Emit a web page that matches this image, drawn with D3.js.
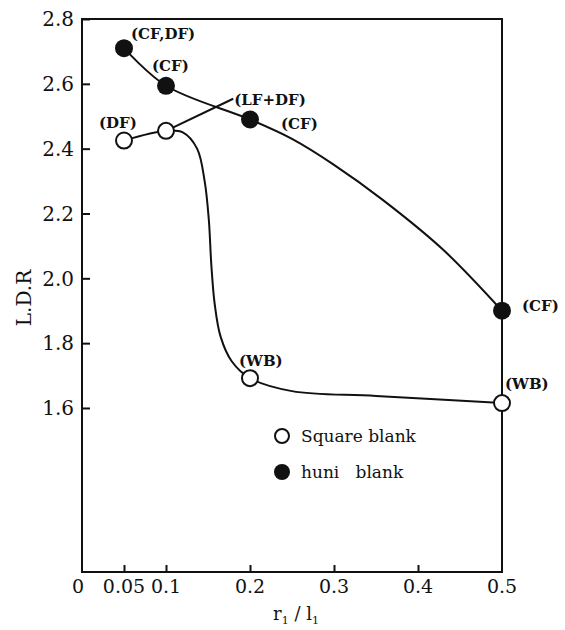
<!DOCTYPE html>
<html>
<head>
<meta charset="utf-8">
<script src="https://cdn.jsdelivr.net/npm/d3@7"></script>
<style>
	body { margin: 0; background: #fff; }
	svg { display: block; }
	text { font-family: "DejaVu Serif", "Liberation Serif", serif; fill: #111; }
</style>
</head>
<body>
<div id="chart"></div>
<script>
// measured points (r1/l1 , L.D.R)
const ratios = [0.05, 0.1, 0.2, 0.5]
const squareLDR = [2.425, 2.455, 1.692, 1.615]
const huniLDR = [2.71, 2.594, 2.49, 1.90]

// failure mode written beside each point
const squareModes = ["(DF)", "", "(WB)", "(WB)"]
const huniModes = ["(CF,DF)", "(CF)", "(CF)", "(CF)"]

// hand drawn curves
const squareCurveX = [0.05, 0.1, 0.12, 0.137, 0.146, 0.151, 0.154, 0.158, 0.165, 0.178, 0.2, 0.25, 0.35, 0.5]
const squareCurveY = [2.425, 2.455, 2.45, 2.4, 2.3, 2.18, 2.04, 1.92, 1.82, 1.745, 1.692, 1.652, 1.637, 1.615]
const huniCurveX = [0.05, 0.1, 0.2, 0.25, 0.3, 0.358, 0.43, 0.5]
const huniCurveY = [2.71, 2.594, 2.49, 2.43, 2.35, 2.242, 2.088, 1.90]

// the (LF+DF) note sits on a leader line from the open point at 0.1
const leaderLabel = "(LF+DF)"
const leaderEnd = [0.18, 2.554]

const xTicks = [0, 0.05, 0.1, 0.2, 0.3, 0.4, 0.5]
const yTicks = [1.6, 1.8, 2.0, 2.2, 2.4, 2.6, 2.8]
const legendNames = ["Square blank", "huni   blank"]

const width = 565
const height = 630
const plotLeft = 82, plotRight = 502, plotTop = 19, plotBottom = 572

const x = d3.scaleLinear().domain([0, 0.5]).range([plotLeft, plotRight])
const y = d3.scaleLinear().domain([1.094, 2.8]).range([plotBottom, plotTop])

const svg = d3.select("#chart")
	.append("svg")
	.attr("width", width)
	.attr("height", height)

// frame
svg.append("rect")
	.attr("x", plotLeft)
	.attr("y", plotTop)
	.attr("width", plotRight - plotLeft)
	.attr("height", plotBottom - plotTop)
	.attr("fill", "none")
	.attr("stroke", "#111")
	.attr("stroke-width", 2)

// y axis, ticks pointing in
const yAxis = svg.append("g")
	.attr("transform", `translate(${plotLeft},0)`)
	.call(d3.axisRight(y).tickValues(yTicks).tickSize(8).tickFormat(""))
yAxis.select(".domain").remove()
yAxis.selectAll("line").attr("stroke", "#111").attr("stroke-width", 2)

svg.append("g")
	.selectAll("text")
	.data(yTicks)
	.join("text")
	.attr("x", plotLeft - 8)
	.attr("y", d => y(d))
	.attr("dy", "0.36em")
	.attr("text-anchor", "end")
	.style("font-size", "20px")
	.text(d => d.toFixed(1))

// x axis, ticks pointing up
const xAxis = svg.append("g")
	.attr("transform", `translate(0,${plotBottom})`)
	.call(d3.axisTop(x).tickValues(xTicks.filter(d => d > 0 && d < 0.5)).tickSize(7).tickFormat(""))
xAxis.select(".domain").remove()
xAxis.selectAll("line").attr("stroke", "#111").attr("stroke-width", 2)

svg.append("g")
	.selectAll("text")
	.data(xTicks)
	.join("text")
	.attr("x", d => x(d) + (d === 0 ? -4 : 0))
	.attr("y", plotBottom + 21)
	.attr("text-anchor", "middle")
	.style("font-size", "19px")
	.text(d => d === 0 ? "0" : String(d))

// axis titles
svg.append("text")
	.attr("transform", `translate(31,298) rotate(-90)`)
	.attr("text-anchor", "middle")
	.style("font-size", "20px")
	.text("L.D.R")

const xTitle = svg.append("text")
	.attr("x", 296)
	.attr("y", 620)
	.attr("text-anchor", "middle")
	.style("font-size", "18px")
xTitle.append("tspan").text("r")
xTitle.append("tspan").attr("dy", 4).style("font-size", "11px").text("1")
xTitle.append("tspan").attr("dy", -4).text(" / l")
xTitle.append("tspan").attr("dy", 4).style("font-size", "11px").text("1")

// curves
const line = d3.line()
	.x(d => x(d[0]))
	.y(d => y(d[1]))
	.curve(d3.curveCatmullRom.alpha(0.5))

svg.append("path")
	.datum(d3.zip(squareCurveX, squareCurveY))
	.attr("d", line)
	.attr("fill", "none")
	.attr("stroke", "#111")
	.attr("stroke-width", 2)

svg.append("path")
	.datum(d3.zip(huniCurveX, huniCurveY))
	.attr("d", line)
	.attr("fill", "none")
	.attr("stroke", "#111")
	.attr("stroke-width", 2)

// leader line for (LF+DF)
svg.append("line")
	.attr("x1", x(ratios[1]))
	.attr("y1", y(squareLDR[1]))
	.attr("x2", x(leaderEnd[0]))
	.attr("y2", y(leaderEnd[1]))
	.attr("stroke", "#111")
	.attr("stroke-width", 2)

svg.append("text")
	.attr("x", x(leaderEnd[0]) + 1)
	.attr("y", y(leaderEnd[1]) + 6)
	.style("font-size", "15px")
	.style("font-weight", "bold")
	.text(leaderLabel)

// points
svg.append("g")
	.selectAll("circle")
	.data(d3.zip(ratios, squareLDR))
	.join("circle")
	.attr("cx", d => x(d[0]))
	.attr("cy", d => y(d[1]))
	.attr("r", 8)
	.attr("fill", "#fff")
	.attr("stroke", "#111")
	.attr("stroke-width", 2)

svg.append("g")
	.selectAll("circle")
	.data(d3.zip(ratios, huniLDR))
	.join("circle")
	.attr("cx", d => x(d[0]))
	.attr("cy", d => y(d[1]))
	.attr("r", 9)
	.attr("fill", "#111")

// mode labels, offsets from their point
const squareOffsets = [[-25, -13], [0, 0], [-11, -12], [3, -14]]
const huniOffsets = [[7, -9], [-14, -15], [31, 10], [20, 0]]

svg.append("g")
	.selectAll("text")
	.data(squareModes.map((m, i) => [m, i]).filter(d => d[0]))
	.join("text")
	.attr("x", d => x(ratios[d[1]]) + squareOffsets[d[1]][0])
	.attr("y", d => y(squareLDR[d[1]]) + squareOffsets[d[1]][1])
	.style("font-size", "15px")
	.style("font-weight", "bold")
	.text(d => d[0])

svg.append("g")
	.selectAll("text")
	.data(huniModes.map((m, i) => [m, i]))
	.join("text")
	.attr("x", d => x(ratios[d[1]]) + huniOffsets[d[1]][0])
	.attr("y", d => y(huniLDR[d[1]]) + huniOffsets[d[1]][1])
	.style("font-size", "15px")
	.style("font-weight", "bold")
	.text(d => d[0])

// legend
const legend = svg.append("g").attr("transform", "translate(282,436)")
legendNames.forEach((name, i) => {
	const g = legend.append("g").attr("transform", `translate(0,${i * 36})`)
	g.append("circle")
		.attr("r", i === 0 ? 7 : 8)
		.attr("fill", i === 0 ? "#fff" : "#111")
		.attr("stroke", "#111")
		.attr("stroke-width", i === 0 ? 2 : 0)
	g.append("text")
		.attr("x", 19)
		.attr("dy", "0.38em")
		.style("font-size", "17px")
		.style("white-space", "pre")
		.attr("xml:space", "preserve")
		.text(name)
})
</script>
</body>
</html>
